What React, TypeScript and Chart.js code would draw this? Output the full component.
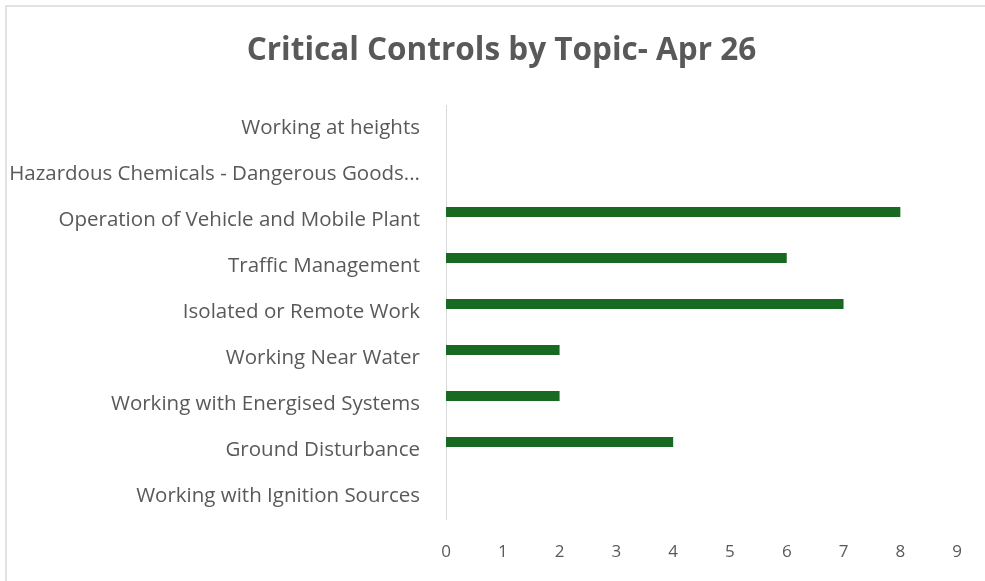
import React, { useEffect, useRef } from "react";
import { Chart, registerables } from "chart.js";

Chart.register(...registerables);

const categories = [
  "Working at heights",
  "Hazardous Chemicals - Dangerous Goods...",
  "Operation of Vehicle and Mobile Plant",
  "Traffic Management",
  "Isolated or Remote Work",
  "Working Near Water",
  "Working with Energised Systems",
  "Ground Disturbance",
  "Working with Ignition Sources",
];
const values = [0, 0, 8, 6, 7, 2, 2, 4, 0];
// Empty companion slot (the source chart reserves a second, blank series slot per category)
const emptySeries = categories.map(() => null);
const xMin = 0;
const xMax = 9;
const title = "Critical Controls by Topic- Apr 26";

const FONT = "'Open Sans', sans-serif";
const GREY = "#595959";
const GREEN = "#186a22";

const titlePlugin = {
  id: "customTitle",
  afterDraw(chart: any) {
    const ctx = chart.ctx;
    ctx.save();
    ctx.fillStyle = GREY;
    ctx.font = `bold 31.5px ${FONT}`;
    ctx.textAlign = "center";
    ctx.textBaseline = "middle";
    ctx.fillText(title, 501.5, 51.5);
    ctx.restore();
  },
};

export default function App() {
  const ref = useRef<HTMLCanvasElement | null>(null);

  useEffect(() => {
    document.body.style.margin = "0";
    const canvas = ref.current;
    if (!canvas) return;
    const chart = new Chart(canvas, {
      type: "bar",
      data: {
        labels: categories,
        datasets: [
          {
            data: values,
            backgroundColor: (ctx: any) => (ctx.raw ? GREEN : "rgba(0,0,0,0)"),
            borderWidth: 0,
            categoryPercentage: 32 / 46,
            barPercentage: 0.625,
          },
          {
            data: emptySeries as any,
            backgroundColor: "rgba(0,0,0,0)",
            borderWidth: 0,
            categoryPercentage: 32 / 46,
            barPercentage: 0.625,
          },
        ],
      },
      options: {
        indexAxis: "y",
        animation: false,
        responsive: false,
        maintainAspectRatio: false,
        layout: { padding: { left: 0, right: 18, top: 105, bottom: 0 } },
        plugins: {
          legend: { display: false },
          tooltip: { enabled: false },
          title: { display: false },
        },
        scales: {
          x: {
            min: xMin,
            max: xMax,
            ticks: {
              stepSize: 1,
              color: GREY,
              font: { family: FONT, size: 17 },
              padding: 23,
            },
            grid: { display: false, drawTicks: false },
            border: { display: false },
            afterFit: (s: any) => {
              s.height = 62;
            },
          },
          y: {
            ticks: {
              color: GREY,
              font: { family: FONT, size: 20.5 },
              padding: 26,
              autoSkip: false,
            },
            grid: { display: false, drawTicks: false },
            border: { display: true, color: "#d9d9d9", width: 1 },
            afterFit: (s: any) => {
              s.width = 446;
            },
          },
        },
      },
      plugins: [titlePlugin],
    });
    return () => chart.destroy();
  }, []);

  return (
    <div style={{ position: "relative", width: 985, height: 581, overflow: "hidden", background: "#fff" }}>
      <div
        style={{
          position: "absolute",
          left: 5,
          top: 5,
          width: 1000,
          height: 600,
          borderLeft: "2px solid #e3e3e3",
          borderTop: "2px solid #e3e3e3",
        }}
      />
      <canvas ref={ref} width={985} height={581} style={{ position: "absolute", left: 0, top: 0 }} />
    </div>
  );
}
